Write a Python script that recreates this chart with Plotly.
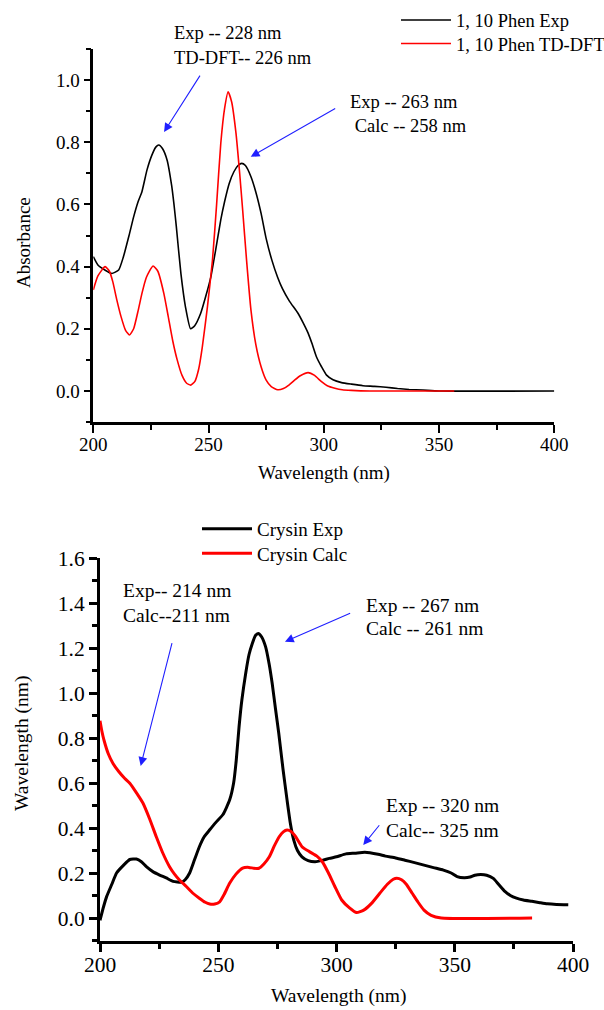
import plotly.graph_objects as go

# ---------------- data ----------------
# 1,10-Phenanthroline (top panel)
phen_exp_wl = [200, 202, 205, 208, 211, 213, 215.5, 217.5, 219.5, 221.1,
               223.3, 225.5, 227.2, 228.4, 230, 232, 234, 235, 236, 238,
               240, 242.2, 244, 246.6, 249, 251, 253, 255.3, 257, 259,
               261, 262.8, 264.4, 266, 268.4, 270.5, 272.8, 275, 277.5, 280,
               282, 285, 288.8, 291, 293.2, 295, 296.8, 299, 301.2, 304,
               307.7, 312, 317, 322, 327, 332, 337, 343, 350, 400]
phen_exp_abs = [0.432, 0.405, 0.389, 0.378, 0.389, 0.43, 0.50, 0.56, 0.61, 0.641,
                0.711, 0.76, 0.785, 0.791, 0.78, 0.743, 0.66, 0.60, 0.53, 0.378,
                0.27, 0.20, 0.21, 0.25, 0.31, 0.367, 0.45, 0.55, 0.61, 0.668,
                0.705, 0.725, 0.732, 0.725, 0.689, 0.64, 0.571, 0.49, 0.42, 0.365,
                0.33, 0.29, 0.25, 0.22, 0.186, 0.15, 0.11, 0.078, 0.051, 0.036,
                0.027, 0.022, 0.017, 0.015, 0.012, 0.008, 0.005, 0.003, 0.0, 0.0]

phen_calc_wl = [200, 202, 205.1, 207, 208.5, 210.2, 212, 214, 215.7, 217.5,
                219.5, 221.1, 223, 225.9, 228, 230.6, 232.5, 234.5, 236.4, 238.5,
                240.5, 242.2, 244, 245.7, 247.3, 249.5, 251.7, 253.5, 255.3, 257,
                258.5, 260, 261.9, 263.5, 264.8, 266.5, 268.4, 270.5, 272.8, 275,
                277.2, 280, 282.5, 285, 287.3, 290, 293.2, 296, 299, 301.5,
                304.8, 308, 312, 320, 356.6]
phen_calc_abs = [0.325, 0.37, 0.40, 0.385, 0.35, 0.293, 0.24, 0.195, 0.18, 0.20,
                 0.26, 0.314, 0.365, 0.402, 0.385, 0.314, 0.24, 0.16, 0.10, 0.05,
                 0.025, 0.019, 0.03, 0.07, 0.142, 0.27, 0.421, 0.60, 0.796, 0.91,
                 0.962, 0.93, 0.829, 0.70, 0.582, 0.42, 0.26, 0.15, 0.078, 0.035,
                 0.014, 0.004, 0.008, 0.02, 0.035, 0.05, 0.059, 0.05, 0.03, 0.017,
                 0.009, 0.004, 0.002, 0.0, 0.0]

# Chrysin (bottom panel)
crys_exp_wl = [200, 201.5, 202.8, 205, 207, 210, 212.6, 215.4, 217.5, 219.6,
               222.5, 225.2, 228, 230.9, 234.4, 236, 237.9, 240, 242.1, 244,
               246.4, 249, 252, 254.8, 256.5, 257.6, 258.8, 260, 261.6, 263,
               264.4, 265.7, 266.9, 268.3, 270, 271.5, 272.8, 274.2, 275.6, 277.4,
               279.1, 280.5, 281.9, 283.5, 285.4, 288, 291, 294, 297, 300,
               304, 307.8, 312, 317.6, 320.7, 325, 328.9, 333, 337, 341,
               345.2, 348.5, 351, 354, 356.5, 358.5, 361, 363.5, 366.3, 368.5,
               371.2, 373.5, 376.1, 379, 382.6, 386, 389.1, 393, 398]
crys_exp_abs = [-0.01, 0.05, 0.095, 0.15, 0.2, 0.235, 0.26, 0.262, 0.25, 0.228,
                0.205, 0.191, 0.178, 0.163, 0.159, 0.17, 0.2, 0.26, 0.319, 0.36,
                0.392, 0.425, 0.46, 0.524, 0.60, 0.70, 0.85, 0.97, 1.087, 1.17,
                1.22, 1.255, 1.265, 1.25, 1.206, 1.13, 1.043, 0.93, 0.82, 0.66,
                0.524, 0.42, 0.347, 0.30, 0.272, 0.255, 0.25, 0.256, 0.265, 0.272,
                0.285, 0.288, 0.292, 0.283, 0.275, 0.267, 0.257, 0.246, 0.235, 0.224,
                0.213, 0.2, 0.184, 0.179, 0.182, 0.19, 0.193, 0.19, 0.176, 0.15,
                0.118, 0.1, 0.088, 0.08, 0.074, 0.068, 0.063, 0.06, 0.059]

crys_calc_wl = [200, 200.8, 201.7, 203.5, 205.5, 208, 210.5, 212.6, 215.5, 218.2,
                221, 223.8, 226.5, 229.4, 231.5, 233.6, 236.5, 239.3, 242, 244.5,
                246.4, 248.5, 250.6, 252.5, 254.8, 257.5, 260.3, 263, 265, 267.2,
                269.3, 271.6, 273.6, 275.7, 277.5, 279.1, 280.8, 282.5, 285.4, 288.5,
                291.7, 294, 296.6, 299.3, 302.2, 305.5, 308.5, 311.5, 314.8, 318.3,
                321.5, 324, 325.5, 327.5, 329.5, 332, 334.5, 337, 340, 344.3,
                382.7]
crys_calc_abs = [0.877, 0.83, 0.79, 0.73, 0.687, 0.65, 0.62, 0.599, 0.555, 0.51,
                 0.44, 0.361, 0.29, 0.228, 0.195, 0.169, 0.14, 0.11, 0.088, 0.07,
                 0.062, 0.062, 0.072, 0.105, 0.154, 0.195, 0.222, 0.225, 0.221, 0.221,
                 0.24, 0.272, 0.318, 0.36, 0.383, 0.391, 0.385, 0.365, 0.317, 0.295,
                 0.275, 0.25, 0.2, 0.14, 0.08, 0.045, 0.024, 0.035, 0.065, 0.11,
                 0.15, 0.172, 0.177, 0.17, 0.15, 0.11, 0.07, 0.035, 0.012, 0.0,
                 0.0]

# peak labels: (text, left px, centre px)
top_labels = [("Exp -- 228 nm", 171.5, 33.3), ("TD-DFT-- 226 nm", 171.5, 58.3),
              ("Exp -- 263 nm", 348.4, 101.7), ("\u00a0Calc -- 258 nm", 348.4, 126)]
bot_labels = [("Exp-- 214 nm", 120.8, 590.7), ("Calc--211 nm", 120.8, 615),
              ("Exp -- 267 nm", 364, 605), ("Calc -- 261 nm", 364, 628.3),
              ("Exp -- 320 nm", 384.4, 805), ("Calc-- 325 nm", 384.4, 830)]
# arrows in data units: (tip_x, tip_y, tail_x, tail_y)
top_arrows = [(230.7, 0.833, 246.7, 1.019), (268.3, 0.753, 305.6, 0.911)]
bot_arrows = [(217.2, 0.676, 230.6, 1.228), (278.2, 1.228, 306.4, 1.357),
              (311.3, 0.324, 318.6, 0.419)]

# ---------------- figure ----------------
W, H = 604, 1010
SERIF = "Liberation Serif"


def px(v):
    return v / W


def py(v):
    return 1 - v / H


fig = go.Figure()
fig.add_trace(go.Scatter(x=phen_exp_wl, y=phen_exp_abs, mode="lines", name="1, 10 Phen Exp",
                         line=dict(color="black", width=1.6, shape="spline", smoothing=0.5),
                         xaxis="x", yaxis="y", legend="legend"))
fig.add_trace(go.Scatter(x=phen_calc_wl, y=phen_calc_abs, mode="lines", name="1, 10 Phen TD-DFT",
                         line=dict(color="#ff0000", width=1.6, shape="spline", smoothing=0.5),
                         xaxis="x", yaxis="y", legend="legend2"))
fig.add_trace(go.Scatter(x=crys_exp_wl, y=crys_exp_abs, mode="lines", name="Crysin Exp",
                         line=dict(color="black", width=3, shape="spline", smoothing=0.5),
                         xaxis="x2", yaxis="y2", legend="legend3"))
fig.add_trace(go.Scatter(x=crys_calc_wl, y=crys_calc_abs, mode="lines", name="Crysin Calc",
                         line=dict(color="#ff0000", width=3, shape="spline", smoothing=0.5),
                         xaxis="x2", yaxis="y2", legend="legend4"))


def axis(domain, anchor, rng, dtick, mdtick, fsize, lw, tlen, mtlen, tw, fmt=None, stand=0):
    d = dict(domain=domain, anchor=anchor, range=rng, autorange=False, automargin=False,
             showgrid=False, zeroline=False, showline=True, linecolor="black",
             linewidth=lw, ticks="outside", ticklen=tlen, tickwidth=tw, tickcolor="black",
             tick0=0 if fmt else 200, dtick=dtick, ticklabelstandoff=stand,
             tickfont=dict(family=SERIF, size=fsize, color="black"),
             minor=dict(dtick=mdtick, ticks="outside", ticklen=mtlen, tickwidth=tw,
                        tickcolor="black", showgrid=False))
    if fmt:
        d["tickformat"] = fmt
    return d


def leg(x, ytop, size):
    return dict(x=px(x), y=py(ytop), xanchor="left", yanchor="top",
                font=dict(family=SERIF, size=size, color="black"),
                bgcolor="rgba(0,0,0,0)", borderwidth=0, itemwidth=50)


layout = dict(
    template="none",
    width=W, height=H, margin=dict(l=0, r=0, t=0, b=0, pad=0, autoexpand=False),
    paper_bgcolor="white", plot_bgcolor="white", showlegend=True,
    font=dict(family=SERIF, color="black"),
    xaxis=axis([px(93.3), px(554.3)], "y", [200, 400], 50, 25, 19, 2.5, 8, 5, 2, stand=-5),
    yaxis=axis([py(422.1), py(48.9)], "x", [-0.1, 1.1], 0.2, 0.1, 19, 2.5, 7, 4.5, 2, ".1f"),
    xaxis2=axis([px(100), px(573)], "y2", [200, 400], 50, 25, 21.5, 3, 8.5, 5, 2.5, stand=-6),
    yaxis2=axis([py(940.5), py(558)], "x2", [-0.1, 1.6], 0.2, 0.1, 21.5, 3, 8, 5, 2.5, ".1f"),
    legend=leg(396, 1.5, 18.5),
    legend2=leg(396, 25, 18.5),
    legend3=leg(197, 510, 19),
    legend4=leg(197, 534.5, 19),
)
fig.update_layout(**layout)

anns = []
for txt, lx, cy in top_labels:
    anns.append(dict(text=txt, xref="paper", yref="paper", x=px(lx), y=py(cy),
                     xanchor="left", yanchor="middle", showarrow=False,
                     font=dict(family=SERIF, size=18.5, color="black")))
for txt, lx, cy in bot_labels:
    anns.append(dict(text=txt, xref="paper", yref="paper", x=px(lx), y=py(cy),
                     xanchor="left", yanchor="middle", showarrow=False,
                     font=dict(family=SERIF, size=19.5, color="black")))
for (tx, ty, sx, sy) in top_arrows:
    anns.append(dict(text="", x=tx, y=ty, xref="x", yref="y", ax=sx, ay=sy,
                     axref="x", ayref="y", showarrow=True, arrowhead=2, arrowsize=1.6,
                     arrowwidth=1.1, arrowcolor="#1f1fff", standoff=0, startstandoff=0))
for (tx, ty, sx, sy) in bot_arrows:
    anns.append(dict(text="", x=tx, y=ty, xref="x2", yref="y2", ax=sx, ay=sy,
                     axref="x2", ayref="y2", showarrow=True, arrowhead=2, arrowsize=1.6,
                     arrowwidth=1.1, arrowcolor="#1f1fff", standoff=0, startstandoff=0))

# axis titles
anns += [
    dict(text="Absorbance", xref="paper", yref="paper", x=px(23), y=py(243), textangle=-90,
         showarrow=False, xanchor="center", yanchor="middle",
         font=dict(family=SERIF, size=19, color="black")),
    dict(text="Wavelength (nm)", xref="paper", yref="paper", x=px(324), y=py(473),
         showarrow=False, xanchor="center", yanchor="middle",
         font=dict(family=SERIF, size=19, color="black")),
    dict(text="Wavelength (nm)", xref="paper", yref="paper", x=px(22), y=py(744), textangle=-90,
         showarrow=False, xanchor="center", yanchor="middle",
         font=dict(family=SERIF, size=19.5, color="black")),
    dict(text="Wavelength (nm)", xref="paper", yref="paper", x=px(338), y=py(996),
         showarrow=False, xanchor="center", yanchor="middle",
         font=dict(family=SERIF, size=19.5, color="black")),
]
fig.update_layout(annotations=anns)

fig.write_html("out.html", config={"displayModeBar": False},
               post_script="document.body.style.margin='0';")
